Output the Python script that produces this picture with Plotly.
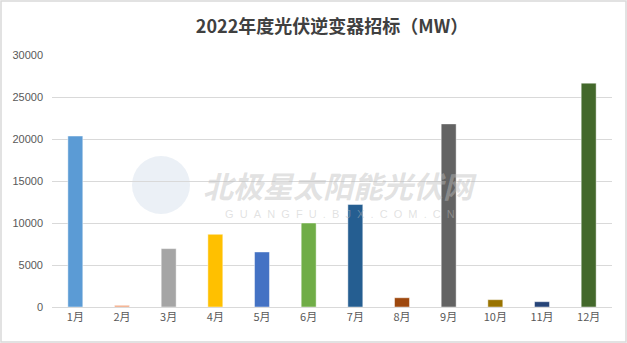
import plotly.graph_objects as go

# Monthly PV inverter tender volume, 2022 (MW)
months = ["1月", "2月", "3月", "4月", "5月", "6月", "7月", "8月", "9月", "10月", "11月", "12月"]
tender_mw = [20350, 200, 6950, 8650, 6550, 10000, 12200, 1100, 21800, 870, 630, 26650]
bar_colors = ["#5B9BD5", "#F2A27A", "#A5A5A5", "#FFC000", "#4472C4", "#70AD47",
              "#255E91", "#9E480E", "#636363", "#997300", "#264478", "#43682B"]
y_ticks = [0, 5000, 10000, 15000, 20000, 25000, 30000]

W, H = 627, 343
M = dict(l=52, r=15, t=55, b=36)
pw = W - M["l"] - M["r"]
ph = H - M["t"] - M["b"]

fig = go.Figure()
fig.add_trace(go.Bar(
    x=months, y=tender_mw,
    marker=dict(color=bar_colors, line=dict(color="rgba(255,255,255,0.6)", width=0.75)),
    width=0.32,
))

# outer frame of the chart area, expressed in paper units
frame = dict(type="rect", xref="paper", yref="paper",
             x0=-(M["l"] - 1) / pw, x1=1 + (M["r"] - 1) / pw,
             y0=-(M["b"] - 1) / ph, y1=1 + (M["t"] - 1) / ph,
             line=dict(color="#D9D9D9", width=1.5), fillcolor="rgba(0,0,0,0)", layer="above")

# faint site logo behind the bars
logo = dict(type="circle", xref="paper", yref="paper",
            x0=(132 - M["l"]) / pw, x1=(190 - M["l"]) / pw,
            y0=1 - (214 - M["t"]) / ph, y1=1 - (156 - M["t"]) / ph,
            line=dict(width=0), fillcolor="rgba(205,218,233,0.4)", layer="below")

sp = "\u00a0\u00a0"
fig.update_layout(
    width=W, height=H,
    margin=M,
    paper_bgcolor="white", plot_bgcolor="white",
    showlegend=False,
    title=dict(text="<b>2022年度光伏逆变器招标（MW）</b>", x=0.5, xref="paper",
               y=1 - 27 / H, yanchor="middle",
               font=dict(family="Noto Sans CJK SC", size=18, color="#404040")),
    font=dict(family="Liberation Sans, Noto Sans CJK SC", size=11, color="#595959"),
    xaxis=dict(showgrid=False, showline=True, linecolor="#D9D9D9", linewidth=1,
               ticks="", tickfont=dict(family="Noto Sans CJK SC", size=11, color="#595959")),
    yaxis=dict(range=[0, 30000], tickvals=y_ticks, ticktext=[str(v) for v in y_ticks],
               showgrid=True, gridcolor="#D9D9D9",
               gridwidth=1, zeroline=False, ticks="", ticklabelstandoff=8,
               tickfont=dict(size=11, color="#595959")),
    shapes=[logo, frame],
    annotations=[
        dict(text="<b><i>北极星太阳能光伏网</i></b>", xref="paper", yref="paper",
             x=(340 - M["l"]) / pw, y=1 - (185 - M["t"]) / ph, showarrow=False,
             font=dict(family="Noto Sans CJK SC", size=30, color="rgba(190,190,190,0.45)")),
        dict(text=sp.join("GUANGFU.BJX.COM.CN"), xref="paper", yref="paper",
             x=(340 - M["l"]) / pw, y=1 - (214 - M["t"]) / ph, showarrow=False,
             font=dict(family="Liberation Sans", size=11, color="rgba(190,190,190,0.45)")),
    ],
)

fig.write_html("out.html")
